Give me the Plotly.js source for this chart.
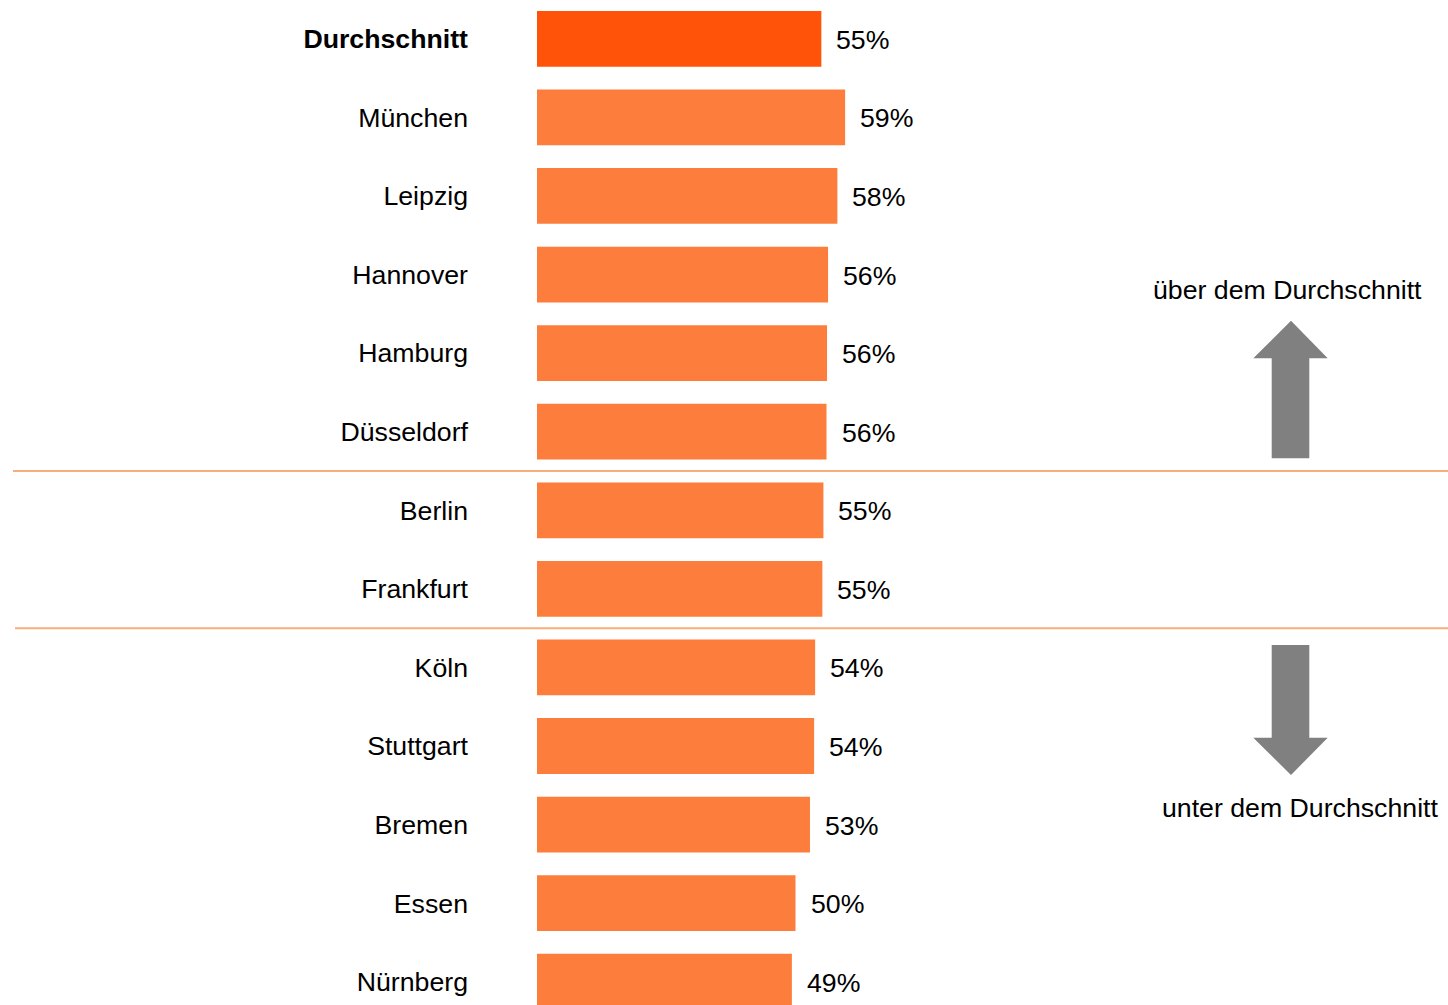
<!DOCTYPE html>
<html>
<head>
<meta charset="utf-8">
<script src="https://cdn.plot.ly/plotly-3.0.1.min.js"></script>
<style>html,body{margin:0;padding:0;background:#fff;}#chart{width:1448px;height:1005px;}</style>
</head>
<body>
<div id="chart"></div>
<script>
// ---- data ----
const cities = ['Durchschnitt','München','Leipzig','Hannover','Hamburg','Düsseldorf','Berlin','Frankfurt','Köln','Stuttgart','Bremen','Essen','Nürnberg'];
const shares = [55.0, 59.6, 58.1, 56.3, 56.1, 56.0, 55.4, 55.2, 53.8, 53.6, 52.8, 50.0, 49.3];
const shareLabels = ['55%','59%','58%','56%','56%','56%','55%','55%','54%','54%','53%','50%','49%'];
const aboveText = 'über dem Durchschnitt';
const belowText = 'unter dem Durchschnitt';

// ---- layout helpers ----
const W = 1448, H = 1005, ML = 537;
const PW = W - ML;
const px = x => (x - ML) / PW;
const py = y => 1 - y / H;
const FONT = 'Arial, "Liberation Sans", sans-serif';
const FS = 26.7;

const barColors = cities.map((c, i) => i === 0 ? '#FF5309' : '#FD7E3C');
const tickText = cities.map((c, i) => i === 0 ? '<b>' + c + '</b>' : c);

const trace = {
  type: 'bar',
  orientation: 'h',
  x: shares,
  y: cities,
  marker: {color: barColors, line: {width: 0}},
  hoverinfo: 'skip'
};

const valueAnn = shares.map((v, i) => ({
  x: v, y: cities[i], xref: 'x', yref: 'y',
  text: shareLabels[i], showarrow: false,
  xanchor: 'left', yanchor: 'middle', xshift: 13, yshift: -1,
  font: {family: FONT, size: FS, color: '#000'}
}));

function path(pts) {
  return 'M' + pts.map(p => px(p[0]).toFixed(5) + ',' + py(p[1]).toFixed(5)).join(' L') + ' Z';
}

const upArrow = path([[1291,320.7],[1327.7,358.3],[1309.3,358.3],[1309.3,458.3],[1271.7,458.3],[1271.7,358.3],[1253.3,358.3]]);
const downArrow = path([[1271.7,645],[1309.3,645],[1309.3,737.7],[1327.7,737.7],[1291,775],[1253.3,737.7],[1271.7,737.7]]);

const layout = {
  width: W, height: H,
  margin: {l: ML, r: 0, t: 0, b: 0, pad: 0},
  paper_bgcolor: '#fff', plot_bgcolor: '#fff',
  showlegend: false,
  bargap: 0.29,
  font: {family: FONT, size: FS, color: '#000'},
  xaxis: {range: [0, PW / 5.17], visible: false, fixedrange: true},
  yaxis: {
    type: 'category',
    categoryorder: 'array', categoryarray: cities,
    range: [12.296, -0.494],
    tickvals: cities, ticktext: tickText,
    showgrid: false, zeroline: false, showline: false, ticks: '',
    ticklabelstandoff: 68,
    automargin: false,
    tickfont: {family: FONT, size: FS, color: '#000'},
    fixedrange: true
  },
  shapes: [
    {type: 'line', xref: 'paper', yref: 'y', x0: px(13), x1: 1, y0: 5.5, y1: 5.5, line: {color: '#F8AE78', width: 2}},
    {type: 'line', xref: 'paper', yref: 'y', x0: px(15), x1: 1, y0: 7.5, y1: 7.5, line: {color: '#F8AE78', width: 2}},
    {type: 'path', xref: 'paper', yref: 'paper', path: upArrow, fillcolor: '#808080', line: {width: 0}},
    {type: 'path', xref: 'paper', yref: 'paper', path: downArrow, fillcolor: '#808080', line: {width: 0}}
  ],
  annotations: valueAnn.concat([
    {xref: 'paper', yref: 'paper', x: px(1287), y: py(290), text: aboveText, showarrow: false,
     xanchor: 'center', yanchor: 'middle', font: {family: FONT, size: FS, color: '#000'}},
    {xref: 'paper', yref: 'paper', x: px(1300), y: py(808), text: belowText, showarrow: false,
     xanchor: 'center', yanchor: 'middle', font: {family: FONT, size: FS, color: '#000'}}
  ])
};

Plotly.newPlot('chart', [trace], layout, {displayModeBar: false, staticPlot: true});
</script>
</body>
</html>
